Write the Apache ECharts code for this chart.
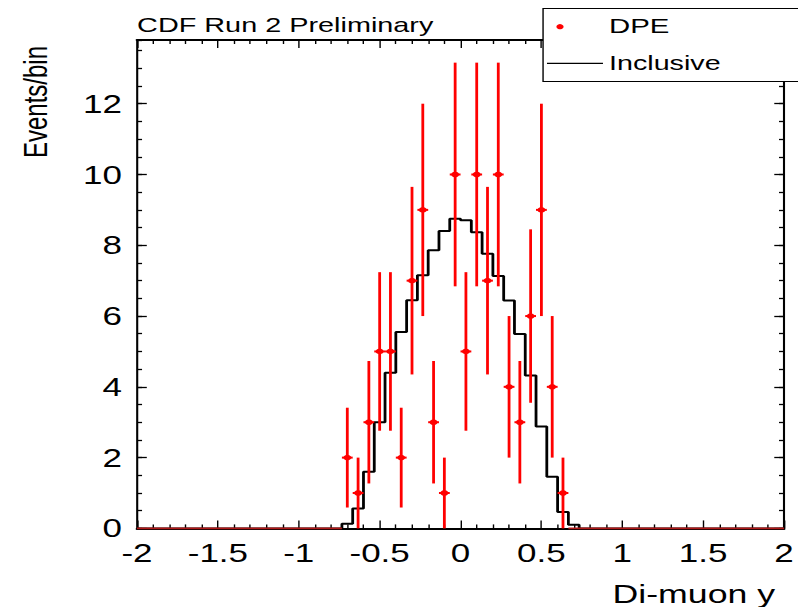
<!DOCTYPE html>
<html><head><meta charset="utf-8">
<script src="https://cdn.jsdelivr.net/npm/echarts@6/dist/echarts.min.js"></script>
<style>
html,body{margin:0;padding:0;background:#fff;overflow:hidden;}
#chart{width:570px;height:607px;transform:scaleX(1.4);transform-origin:0 0;}
</style></head><body><div id="chart"></div>
<script>
// ---- data ----
const xTicks = [-2, -1.5, -1, -0.5, 0, 0.5, 1, 1.5, 2];
const yTicks = [0, 2, 4, 6, 8, 10, 12];
const yMax = 13.8;
const binWidth = 1 / 15;

// DPE points (bin centres, counts, errors)
const dpeX = [-0.7, -0.6333, -0.5667, -0.5, -0.4333, -0.3667, -0.3, -0.2333, -0.1667, -0.1, -0.0333,
              0.0333, 0.1, 0.1667, 0.2333, 0.3, 0.3667, 0.4333, 0.5, 0.5667, 0.6333];
const dpeY = [2, 1, 3, 5, 5, 2, 7, 9, 3, 1, 10, 5, 10, 7, 10, 4, 3, 6, 9, 4, 1];
const dpeErr = [1.41, 1, 1.73, 2.24, 2.24, 1.41, 2.65, 3, 1.73, 1, 3.16, 2.24, 3.16, 2.65, 3.16, 2, 1.73, 2.45, 3, 2, 1];
// empty DPE bins (drawn as a line on zero)
const dpeZeroRanges = [[-2, -0.7333], [0.6667, 2]];

// Inclusive histogram (bin edges and contents)
const inclEdges = [-0.7333, -0.6667, -0.6, -0.5333, -0.4667, -0.4, -0.3333, -0.2667, -0.2, -0.1333, -0.0667, 0,
                   0.0667, 0.1333, 0.2, 0.2667, 0.3333, 0.4, 0.4667, 0.5333, 0.6, 0.6667, 0.7333];
const inclY = [0.13, 0.56, 1.6, 3.0, 4.4, 5.55, 6.45, 7.15, 7.86, 8.4, 8.75, 8.71, 8.37, 7.76, 7.13, 6.44, 5.49, 4.32, 2.88, 1.46, 0.46, 0.1];

// ---- build ----
const FONT = "'Liberation Sans', Arial, Helvetica, sans-serif";
const xMin = xTicks[0], xMax = xTicks[xTicks.length - 1];
const histPts = [[xMin, 0], [inclEdges[0], 0]];
inclY.forEach((v, i) => { histPts.push([inclEdges[i], v], [inclEdges[i + 1], v]); });
histPts.push([inclEdges[inclEdges.length - 1], 0], [xMax, 0]);

const dpeData = dpeX.map((x, i) => [x, dpeY[i], dpeErr[i]]);
const zeroData = dpeZeroRanges.map(r => [r[0], r[1], 0]);

const chart = echarts.init(document.getElementById('chart'), null, {renderer: 'svg'});

function xAxisDef(pos, labels) {
  return {
    type: 'value', position: pos, min: xMin, max: xMax, interval: xTicks[1] - xTicks[0],
    axisLine: {show: true, onZero: false, lineStyle: {color: '#000', width: 2}},
    axisTick: {show: true, inside: true, length: 8, lineStyle: {color: '#000', width: 1}},
    minorTick: {show: true, splitNumber: 5, length: 4, lineStyle: {color: '#000', width: 1}},
    splitLine: {show: false}, minorSplitLine: {show: false},
    axisLabel: labels ? {show: true, fontSize: 25, color: '#000', fontFamily: FONT, margin: 12,
      showMinLabel: true, showMaxLabel: true,
      formatter: v => (xTicks.indexOf(v) >= 0 ? String(v) : '')} : {show: false}
  };
}
function yAxisDef(pos, interval, len, line, labels) {
  return {
    type: 'value', position: pos, min: yTicks[0], max: yMax, interval: interval,
    axisLine: {show: line, onZero: false, lineStyle: {color: '#000', width: 1.5}},
    axisTick: {show: true, inside: true, length: len, lineStyle: {color: '#000', width: 1.3}},
    splitLine: {show: false},
    axisLabel: labels ? {show: true, fontSize: 25, color: '#000', fontFamily: FONT, margin: 10.7,
      showMaxLabel: false,
      formatter: v => (yTicks.indexOf(v) >= 0 ? String(v) : '')} : {show: false}
  };
}

const bottomX = xAxisDef('bottom', true);
bottomX.name = 'Di-muon y';
bottomX.nameLocation = 'end';
bottomX.nameGap = -6.4;
bottomX.nameTextStyle = {fontSize: 25.5, color: '#000', fontFamily: FONT, align: 'right', verticalAlign: 'top', padding: [52.6, 0, 0, 0]};

const option = {
  animation: false,
  backgroundColor: '#fff',
  title: {text: 'CDF Run 2 Preliminary', left: 97.9, top: 14.5, padding: 0,
    textStyle: {fontSize: 20.6, fontWeight: 'normal', color: '#000', fontFamily: FONT}},
  grid: {left: 97.86, right: 9.3, top: 40, bottom: 78, containLabel: false},
  xAxis: [bottomX, xAxisDef('top', false)],
  yAxis: [
    yAxisDef('left', yTicks[1] - yTicks[0], 7, true, true),
    yAxisDef('left', 0.5, 3.6, false, false),
    yAxisDef('right', yTicks[1] - yTicks[0], 7, true, false),
    yAxisDef('right', 0.5, 3.6, false, false)
  ],
  series: [
    {
      name: 'Inclusive', type: 'line', xAxisIndex: 0, yAxisIndex: 0, data: histPts,
      showSymbol: false, symbol: 'none', lineStyle: {color: '#000', width: 2}, z: 3, silent: true
    },
    {
      name: 'DPE zero', type: 'custom', xAxisIndex: 0, yAxisIndex: 0, data: zeroData,
      encode: {x: [0, 1], y: 2}, z: 4, silent: true,
      renderItem: function (params, api) {
        const a = api.coord([api.value(0), api.value(2)]);
        const b = api.coord([api.value(1), api.value(2)]);
        return {type: 'line', shape: {x1: a[0], y1: a[1], x2: b[0], y2: b[1]},
          style: {stroke: '#b01818', lineWidth: 1.6}};
      }
    },
    {
      name: 'DPE', type: 'custom', xAxisIndex: 0, yAxisIndex: 0, data: dpeData,
      encode: {x: 0, y: 1}, z: 5, silent: true,
      renderItem: function (params, api) {
        const x = api.value(0), y = api.value(1), e = api.value(2);
        const c = api.coord([x, y]);
        const hi = api.coord([x, y + e]);
        const lo = api.coord([x, Math.max(0, y - e)]);
        const w = api.size([binWidth, 0])[0];
        return {type: 'group', children: [
          {type: 'line', shape: {x1: c[0], y1: hi[1], x2: c[0], y2: lo[1]}, style: {stroke: '#ff0000', lineWidth: 2}},
          {type: 'line', shape: {x1: c[0] - w / 2, y1: c[1], x2: c[0] + w / 2, y2: c[1]}, style: {stroke: '#ff0000', lineWidth: 2}},
          {type: 'circle', shape: {cx: c[0], cy: c[1], r: 2.8}, style: {fill: '#ff0000'}}
        ]};
      }
    }
  ],
  graphic: [
    {type: 'rect', z: 100, shape: {x: 387.9, y: 8.5, width: 300, height: 73}, style: {fill: '#fff', stroke: '#000', lineWidth: 1}},
    {type: 'circle', z: 101, shape: {cx: 400, cy: 26.7, r: 2.6}, style: {fill: '#ff0000'}},
    {type: 'text', z: 101, x: 435, y: 26, style: {text: 'DPE', fontSize: 21, fontFamily: FONT, fill: '#000',
      align: 'left', verticalAlign: 'middle', textAlign: 'left', textVerticalAlign: 'middle'}},
    {type: 'line', z: 101, shape: {x1: 390.7, y1: 63.3, x2: 430.7, y2: 63.3}, style: {stroke: '#000', lineWidth: 1.3}},
    {type: 'text', z: 101, x: 435, y: 63, style: {text: 'Inclusive', fontSize: 20.5, fontFamily: FONT, fill: '#000',
      align: 'left', verticalAlign: 'middle', textAlign: 'left', textVerticalAlign: 'middle'}},
    {type: 'text', z: 101, x: 25.7, y: 158, rotation: Math.PI / 2, style: {text: 'Events/bin', fontSize: 24, fontFamily: FONT, fill: '#000',
      align: 'left', verticalAlign: 'middle', textAlign: 'left', textVerticalAlign: 'middle'}}
  ]
};
chart.setOption(option);
</script></body></html>
